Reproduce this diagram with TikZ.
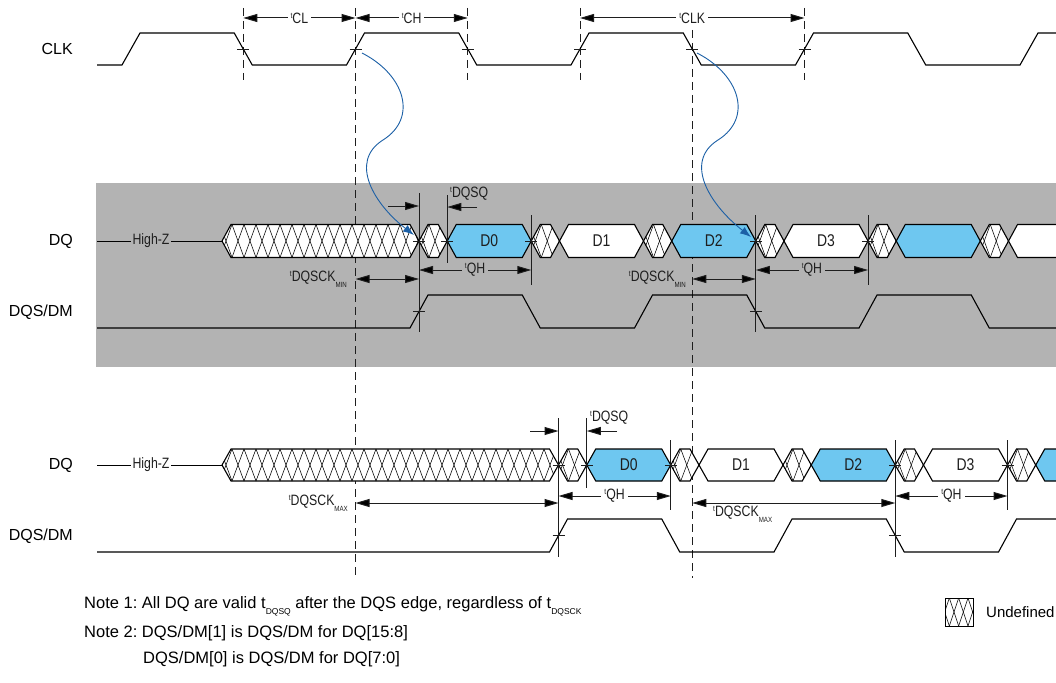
\documentclass[tikz,border=0pt]{standalone}
\usepackage{fontspec}
\setmainfont{Liberation Sans}
\newfontfamily\narrowfont{Liberation Sans}[FakeStretch=0.82]
\usetikzlibrary{arrows.meta}
\definecolor{bandgray}{RGB}{179,179,179}
\definecolor{datablue}{RGB}{110,199,240}
\definecolor{curveblue}{RGB}{28,96,166}
\definecolor{dimgray}{RGB}{30,30,30}
\frenchspacing
\newcommand{\tsup}[1]{\raisebox{0.62ex}{\fontsize{8}{8}\selectfont t}#1}
\newcommand{\lsub}[1]{\raisebox{-0.75ex}{\fontsize{7.5}{7.5}\selectfont #1}}
\newcommand{\nsub}[1]{\raisebox{-0.7ex}{\fontsize{8.5}{8.5}\selectfont #1}}
\tikzset{
  sig/.style={line width=1.1pt, black, line join=miter},
  hatchline/.style={line width=0.55pt, black},
  tline/.style={line width=0.9pt, dimgray},
  dashv/.style={line width=0.9pt, dimgray, dash pattern=on 8pt off 5pt},
  dim/.style={line width=1pt, dimgray, {Triangle[length=14pt,width=8pt,fill=black]}-{Triangle[length=14pt,width=8pt,fill=black]}},
  dimr/.style={line width=1pt, dimgray, -{Triangle[length=14pt,width=8pt,fill=black]}},
  tlab/.style={font=\narrowfont\fontsize{15}{15}\selectfont, inner sep=3pt, text=dimgray},
  siglab/.style={font=\fontsize{16}{16}\selectfont, anchor=east, inner sep=0pt},
  dlab/.style={font=\narrowfont\fontsize{17}{17}\selectfont, inner sep=0pt, text=dimgray},
  note/.style={font=\fontsize{16.5}{16.5}\selectfont, anchor=west, inner sep=0pt},
  curve/.style={line width=0.9pt, curveblue, -{Latex[length=11pt,width=8pt]}},
}
% hatched hexagon: x1 x2 yc h
\newcommand{\hatchhex}[4]{%
  \begin{scope}
    \clip (#1,#3) -- ({#1+9},{#3-#4}) -- ({#2-9},{#3-#4}) -- (#2,#3) -- ({#2-9},{#3+#4}) -- ({#1+9},{#3+#4}) -- cycle;
    \fill[white] ({#1-2},{#3-#4-2}) rectangle ({#2+2},{#3+#4+2});
    \pgfmathtruncatemacro\hn{(#2-#1)/12+3}
    \foreach \i in {0,...,\hn}{
      \draw[hatchline] ({#1-14+\i*12},{#3+#4}) -- ++(12,{-2*#4});
      \draw[hatchline] ({#1-14+\i*12},{#3-#4}) -- ++(12,{2*#4});
    }
  \end{scope}
  \draw[sig] (#1,#3) -- ({#1+9},{#3-#4}) -- ({#2-9},{#3-#4}) -- (#2,#3) -- ({#2-9},{#3+#4}) -- ({#1+9},{#3+#4}) -- cycle;
}
% data hexagon: x1 x2 yc h fill
\newcommand{\datahex}[5]{%
  \draw[sig, fill=#5] (#1,#3) -- ({#1+9},{#3-#4}) -- ({#2-9},{#3-#4}) -- (#2,#3) -- ({#2-9},{#3+#4}) -- ({#1+9},{#3+#4}) -- cycle;
}
\newcommand{\tick}[2]{\draw[tline] ({#1-6},#2) -- ({#1+6},#2);}
\begin{document}
\begin{tikzpicture}[x=1pt,y=-1pt]
\clip (0,0) rectangle (1056,682);
\fill[white] (0,0) rectangle (1056,682);
% gray band
\fill[bandgray] (96,183) rectangle (1056,367);

% signal labels
\node[siglab] (lclk) at (73,49) {CLK};
\node[siglab] (ldq1) at (73,241) {DQ};
\node[siglab] (ldqs1) at (73,312) {DQS/DM};
\node[siglab] (ldq2) at (73,465) {DQ};
\node[siglab] (ldqs2) at (73,536) {DQS/DM};

% dashed reference lines
\foreach \xx in {243.25,467.75,580,804.5}{\draw[dashv] (\xx,8) -- (\xx,80);}
\draw[dashv] (355.5,8) -- (355.5,578);
\draw[dashv] (692.25,30) -- (692.25,578);

% CLK
\draw[sig] (97,65) -- (122,65) -- (140,33) -- (234.25,33) -- (252.25,65) -- (346.5,65) -- (364.5,33) -- (458.75,33) -- (476.75,65) -- (571,65) -- (589,33) -- (683.25,33) -- (701.25,65) -- (795.5,65) -- (813.5,33) -- (907.75,33) -- (925.75,65) -- (1020,65) -- (1038,33) -- (1060,33);
\foreach \xx in {243.25,355.5,467.75,580,692.25,804.5}{\tick{\xx}{49}}

% top dimensions
\draw[dim] (243.25,18) -- (355.5,18) node (tcl) [midway, tlab, fill=white] {\tsup{CL}};
\draw[dim] (355.5,18) -- (467.75,18) node (tch) [midway, tlab, fill=white] {\tsup{CH}};
\draw[dim] (580,18) -- (804.5,18) node (tclk) [midway, tlab, fill=white] {\tsup{CLK}};

% ---------- Row 1 ----------
\draw[line width=1pt] (97,241) -- (222,241);
\node[tlab, fill=bandgray, inner sep=2pt] (hz1) at (151,241) {High-Z};
\hatchhex{222}{419}{241}{16.5}
\hatchhex{419}{447.25}{241}{16.5}
\datahex{447.25}{531.25}{241}{16.5}{datablue}
\hatchhex{531.25}{559.5}{241}{16.5}
\datahex{559.5}{643.5}{241}{16.5}{white}
\hatchhex{643.5}{671.75}{241}{16.5}
\datahex{671.75}{755.75}{241}{16.5}{datablue}
\hatchhex{755.75}{784}{241}{16.5}
\datahex{784}{868}{241}{16.5}{white}
\hatchhex{868}{896.25}{241}{16.5}
\datahex{896.25}{980.25}{241}{16.5}{datablue}
\hatchhex{980.25}{1008.5}{241}{16.5}
\datahex{1008.5}{1092.5}{241}{16.5}{white}
\node[dlab] (d01) at (489.25,241) {D0};
\node[dlab] (d11) at (601.5,241) {D1};
\node[dlab] (d21) at (713.75,241) {D2};
\node[dlab] (d31) at (826,241) {D3};

\draw[sig] (97,328) -- (410,328) -- (428,295) -- (522.25,295) -- (540.25,328) -- (634.5,328) -- (652.5,295) -- (746.75,295) -- (764.75,328) -- (859,328) -- (877,295) -- (971.25,295) -- (989.25,328) -- (1060,328);

\draw[tline] (419,193) -- (419,332);
\draw[tline] (447.25,195) -- (447.25,263);
\draw[tline] (531.25,215) -- (531.25,285);
\draw[tline] (755.75,215) -- (755.75,332);
\draw[tline] (868,215) -- (868,285);
\foreach \xx in {419,447.25,531.25,755.75,868}{\tick{\xx}{241}}
\tick{419}{311.5}
\tick{755.75}{311.5}

\draw[dimr] (388,206) -- (419,206);
\draw[dimr] (477,207) -- (447.25,207);
\node[tlab, anchor=west, inner sep=0pt] (dqsq1) at (450,194) {\tsup{DQSQ}};
\draw[dim] (419,270) -- (531.25,270) node (qh1) [midway, tlab, fill=bandgray] {\tsup{QH}};
\draw[dim] (355.5,279) -- (419,279);
\node[tlab, anchor=east, inner sep=0pt] (ck1) at (347,279) {\tsup{DQSCK}\lsub{MIN}};
\draw[dim] (692.25,279) -- (755.75,279);
\node[tlab, anchor=east, inner sep=0pt] (ck2) at (686,279) {\tsup{DQSCK}\lsub{MIN}};
\draw[dim] (755.75,270) -- (868,270) node (qh2) [midway, tlab, fill=bandgray] {\tsup{QH}};

% blue curves
\coordinate (c1s) at (362,53);
\coordinate (c1e) at (414,235);
\coordinate (c2s) at (697,53);
\coordinate (c2e) at (751,237);
\draw[curve] (c1s) .. controls (405,75) and (418,118) .. (383,140) .. controls (348,162) and (375,205) .. (c1e);
\draw[curve] (c2s) .. controls (740,75) and (753,118) .. (718,140) .. controls (683,162) and (710,205) .. (c2e);

% ---------- Row 2 ----------
\draw[line width=1pt] (97,465) -- (222,465);
\node[tlab, fill=white, inner sep=2pt] (hz2) at (151,465) {High-Z};
\hatchhex{222}{558.5}{465}{16}
\hatchhex{558.5}{586.75}{465}{16}
\datahex{586.75}{670.75}{465}{16}{datablue}
\hatchhex{670.75}{699}{465}{16}
\datahex{699}{783}{465}{16}{white}
\hatchhex{783}{811.25}{465}{16}
\datahex{811.25}{895.25}{465}{16}{datablue}
\hatchhex{895.25}{923.5}{465}{16}
\datahex{923.5}{1007.5}{465}{16}{white}
\hatchhex{1007.5}{1035.75}{465}{16}
\datahex{1035.75}{1119.75}{465}{16}{datablue}
\node[dlab] (d02) at (628.75,465) {D0};
\node[dlab] (d12) at (741,465) {D1};
\node[dlab] (d22) at (853.25,465) {D2};
\node[dlab] (d32) at (965.5,465) {D3};

\draw[sig] (97,552) -- (549.5,552) -- (567.5,519) -- (661.75,519) -- (679.75,552) -- (774,552) -- (792,519) -- (886.25,519) -- (904.25,552) -- (998.5,552) -- (1016.5,519) -- (1060,519);

\draw[tline] (558.5,418) -- (558.5,557);
\draw[tline] (586.75,418) -- (586.75,488);
\draw[tline] (670.75,440) -- (670.75,510);
\draw[tline] (895.25,440) -- (895.25,557);
\draw[tline] (1007.5,440) -- (1007.5,510);
\foreach \xx in {558.5,586.75,670.75,895.25,1007.5}{\tick{\xx}{465}}
\tick{558.5}{535.5}
\tick{895.25}{535.5}

\draw[dimr] (530,431) -- (558.5,431);
\draw[dimr] (617,431) -- (586.75,431);
\node[tlab, anchor=west, inner sep=0pt] (dqsq2) at (590,418) {\tsup{DQSQ}};
\draw[dim] (558.5,496) -- (670.75,496) node (qh3) [midway, tlab, fill=white] {\tsup{QH}};
\draw[dim] (355.5,503) -- (558.5,503);
\node[tlab, anchor=east, inner sep=0pt] (ck3) at (348,503) {\tsup{DQSCK}\lsub{MAX}};
\draw[dim] (692.25,503) -- (895.25,503);
\node[tlab, anchor=west, inner sep=0pt] (ck4) at (713,514) {\tsup{DQSCK}\lsub{MAX}};
\draw[dim] (895.25,496) -- (1007.5,496) node (qh4) [midway, tlab, fill=white] {\tsup{QH}};

% notes
\node[note] (n1) at (84,606) {Note 1: All DQ are valid t\nsub{DQSQ} after the DQS edge, regardless of t\nsub{DQSCK}};
\node[note] (n2) at (84,633) {Note 2: DQS/DM[1] is DQS/DM for DQ[15:8]};
\node[note] (n3) at (143,659) {DQS/DM[0] is DQS/DM for DQ[7:0]};

% legend
\begin{scope}
  \clip (945,598) rectangle (973,626);
  \fill[white] (945,598) rectangle (973,626);
  \foreach \i in {0,...,5}{
    \draw[hatchline] ({940+\i*9.33},626) -- ++(9.33,-28);
    \draw[hatchline] ({940+\i*9.33},598) -- ++(9.33,28);
  }
\end{scope}
\draw[line width=1pt] (945,598) rectangle (973,626);
\node[font=\fontsize{15}{15}\selectfont, anchor=west, inner sep=0pt] (undef) at (986,612) {Undefined};
\end{tikzpicture}
\end{document}
